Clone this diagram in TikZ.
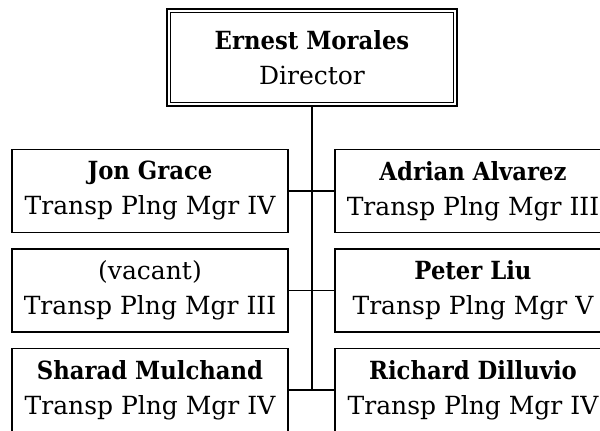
\documentclass[tikz,border=0pt]{standalone}
\usepackage{fontspec}
\setmainfont{DejaVu Serif}[BoldFeatures = {FakeStretch = 0.91}]
\usepackage{tikz}

\tikzset{
  staff/.style = {draw, line width = 0.7pt, align = center, inner sep = 0pt,
    minimum width = 138pt, minimum height = 41.5pt,
    font = \fontsize{12.5}{17.5}\selectfont},
  chief/.style = {staff, line width = 1.4pt, minimum width = 145pt, minimum height = 48.5pt},
  link/.style = {line width = 0.6pt}
}

\begin{document}
\begin{tikzpicture}[x = 0.5pt, y = -0.5pt]
			\useasboundingbox (0,0) rectangle (600,431);
			\clip (0,0) rectangle (600,431);
			\node (ernest) at (312,57.5) [chief] {\textbf{Ernest Morales}\\Director};
			\draw[line width = 0.5pt] ([shift = {(2.5pt,-2.5pt)}]ernest.north west) rectangle ([shift = {(-2.5pt,2.5pt)}]ernest.south east);
			\node (jon) at (150,191) [staff] {\textbf{Jon Grace}\\Transp Plng Mgr IV};
			\node (vacant) at (150,290.5) [staff] {(vacant)\\Transp Plng Mgr III};
			\node (sharad) at (150,390) [staff] {\textbf{Sharad Mulchand}\\Transp Plng Mgr IV};
			\node (adrian) at (473,191) [staff] {\textbf{Adrian Alvarez}\\Transp Plng Mgr III};
			\node (peter) at (473,290.5) [staff] {\textbf{Peter Liu}\\Transp Plng Mgr V};
			\node (richard) at (473,390) [staff] {\textbf{Richard Dilluvio}\\Transp Plng Mgr IV};
			\coordinate (trunk) at (ernest.south |- sharad.east);
			\draw[link] (ernest) -- (trunk);
			\draw[link] (jon.east) -- (adrian.west);
			\draw[link] (vacant.east) -- (peter.west);
			\draw[link] (sharad.east) -- (richard.west);
\end{tikzpicture}
\end{document}
